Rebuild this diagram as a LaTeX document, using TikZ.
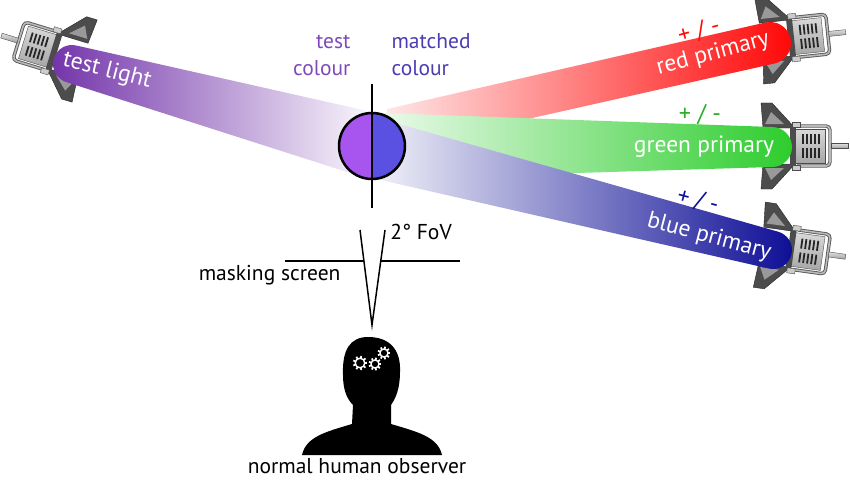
\documentclass[tikz,border=0pt]{standalone}
\usepackage{fontspec}
\setmainfont{PT Sans}
\usetikzlibrary{calc}

\definecolor{testpurple}{RGB}{115,52,170}
\definecolor{redprim}{RGB}{255,8,8}
\definecolor{greenprim}{RGB}{45,205,45}
\definecolor{blueprim}{RGB}{14,14,150}
\definecolor{testhalf}{RGB}{168,85,240}
\definecolor{matchhalf}{RGB}{90,80,225}
\definecolor{testlabel}{RGB}{125,75,185}
\definecolor{matchlabel}{RGB}{75,60,180}

% 灯具: x, y, 旋转角
\newcommand{\drawlamp}[3]{%
  \begin{scope}[shift={(#1,#2)}, rotate=#3]
    \filldraw[fill=black!70, draw=black!85] (-31,-43) -- (-20,-43) -- (3,-18) -- (-29,-18) -- cycle;
    \filldraw[fill=black!70, draw=black!85] (-31,43) -- (-20,43) -- (3,18) -- (-29,18) -- cycle;
    \fill[black!40] (-27,-22) -- (-21,-34) -- (-8,-22) -- cycle;
    \fill[black!40] (-27,22) -- (-21,34) -- (-8,22) -- cycle;
    \draw[black!65, line width=3.4, rounded corners=4] (5,-20) -- (38,-20) -- (38,20) -- (5,20);
    \draw[gray!55, line width=1.6, rounded corners=4] (5,-20) -- (38,-20) -- (38,20) -- (5,20);
    \shade[top color=gray!25, bottom color=gray!75, draw=black!70] (39,-2.5) rectangle (56,2.5);
    \shade[top color=gray!30, bottom color=gray!70, draw=black!70] (3,-17) rectangle (33,17);
    \foreach \u in {10,14,...,26} {
      \fill[black!85] (\u,-12) rectangle (\u+1.8,-2);
      \fill[black!85] (\u,2) rectangle (\u+1.8,12);
    }
    \fill[black!70] (-2,-19) rectangle (4,19);
    \filldraw[fill=gray!40, draw=black!70] (0,-24) rectangle (8,-19) (0,19) rectangle (8,24);
  \end{scope}}

% 齿轮: x, y, 半径
\newcommand{\drawgear}[3]{%
  \begin{scope}[shift={(#1,#2)}]
    \draw[white, line width=1.4] (0,0) circle[radius=#3];
    \foreach \a in {0,40,...,320}
      \draw[white, line width=1.7] (\a:#3) -- (\a:{#3+2.4});
  \end{scope}}

\begin{document}
\begin{tikzpicture}[x=1pt, y=-1pt,
    lbl/.style={font=\fontsize{21.5}{27}\selectfont},
    beamlbl/.style={font=\fontsize{23.5}{28}\selectfont, text=white},
    pmlbl/.style={font=\fontsize{24}{28}\selectfont}]
  \useasboundingbox (0,0) rectangle (850,484);

  % 灯具
  \drawlamp{55}{52}{-197}
  \drawlamp{790}{38}{6}
  \drawlamp{792}{146}{0}
  \drawlamp{790}{249}{-8}

  % 光束
  \coordinate (O) at (372,146);
  \shade[left color=testpurple, right color=white!96!testpurple]
    (372,112) -- ($(72,64)+(285.3:19)$) arc[start angle=285.3, end angle=105.3, radius=19]
    -- (372,180) -- cycle;
  \shade[left color=white!90!redprim, right color=redprim]
    (387,109) -- ($(770,43)+(-102.8:21)$) arc[start angle=-102.8, end angle=77.2, radius=21]
    -- (390,150) -- cycle;
  \shade[left color=white!90!greenprim, right color=greenprim]
    (382,113) -- (772,127) arc[start angle=-90, end angle=90, radius=20]
    -- (382,179) -- cycle;
  \shade[left color=white!95!blueprim, right color=blueprim]
    (385,120) -- ($(773,250)+(-75.4:19)$) arc[start angle=-75.4, end angle=104.6, radius=19]
    -- (372,178) -- cycle;

  % 比色圆
  \fill[testhalf] (372,113) arc[start angle=-90, end angle=-270, radius=33] -- cycle;
  \fill[matchhalf] (372,113) arc[start angle=-90, end angle=90, radius=33] -- cycle;
  \draw[line width=2.5] (O) circle[radius=33];
  \coordinate (vtop) at (372,84);
  \coordinate (vbot) at (372,208);
  \draw[line width=1.5] (vtop) -- (vbot);

  % 文字
  \node[beamlbl, rotate=-14.5] (tl) at (107,71) {test light};
  \node[beamlbl, rotate=15] (rl) at (713,54) {red primary};
  \node[beamlbl] (gl) at (704,147) {green primary};
  \node[beamlbl, rotate=-15] (bl) at (709,237) {blue primary};
  \node[pmlbl, text=redprim, rotate=15] (rpm) at (699,31) {+ / -};
  \node[pmlbl, text=greenprim!85!black] (gpm) at (700,115) {+ / -};
  \node[pmlbl, text=blueprim, rotate=-15] (bpm) at (698,201) {+ / -};
  \node[lbl, text=testlabel, anchor=east, align=right] (tc) at (354,55) {test\\colour};
  \node[lbl, text=matchlabel, anchor=west, align=left] (mc) at (388,55) {matched\\colour};

  % 遮挡屏与视场
  \coordinate (ms1) at (285,261);
  \coordinate (ms2) at (364,261);
  \coordinate (ms3) at (381,261);
  \coordinate (ms4) at (460,261);
  \coordinate (fl) at (360,230);
  \coordinate (fr) at (385,230);
  \coordinate (eye) at (372,325);
  \draw[line width=1.8] (ms1) -- (ms2) (ms3) -- (ms4);
  \draw[line width=1.5] (fl) -- (eye) -- (fr);
  \node[lbl] (fov) at (421,232) {2° FoV};
  \node[lbl, anchor=east] (msk) at (344,275) {masking screen};

  % 观察者
  \fill[black] (302,455) .. controls (306,437) and (325,432) .. (352,424)
    -- (353,405) .. controls (346,398) and (343,388) .. (343,375)
    .. controls (342,350) and (350,337) .. (368,337)
    .. controls (390,337) and (401,350) .. (400,372)
    .. controls (400,388) and (396,398) .. (391,405)
    -- (391,424) .. controls (418,432) and (438,437) .. (442,455) -- cycle;
  \drawgear{360}{363}{4.8}
  \drawgear{375}{364}{4}
  \drawgear{384}{353}{4}
  \node[lbl] (obs) at (357,466) {normal human observer};
\end{tikzpicture}
\end{document}
